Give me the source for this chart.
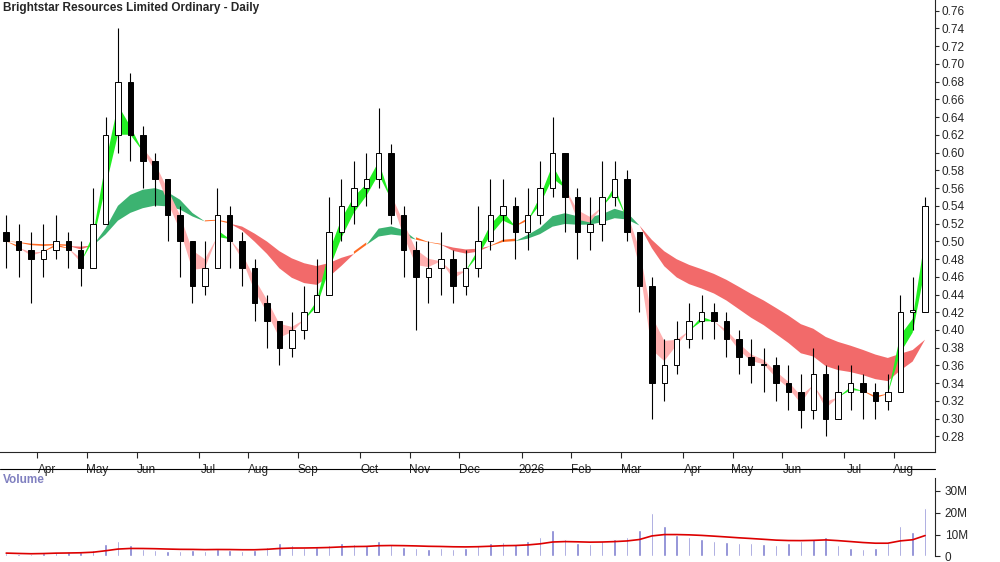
import numpy as np, pandas as pd, matplotlib
matplotlib.use("Agg")
import matplotlib.pyplot as plt, seaborn as sns

sns.set_style("white")
plt.rcParams['font.family'] = ['Liberation Sans', 'DejaVu Sans']

start_date = "2025-03-17"
closes = [0.50,0.49,0.48,0.49,0.50,0.49,0.47,0.52,0.62,0.68,0.62,0.59,0.57,0.53,0.50,0.45,0.47,0.53,0.50,0.47,
          0.43,0.41,0.38,0.40,0.42,0.44,0.51,0.54,0.56,0.57,0.60,0.53,0.49,0.46,0.47,0.48,0.45,0.47,0.50,0.53,
          0.54,0.51,0.53,0.56,0.60,0.55,0.51,0.52,0.55,0.57,0.51,0.45,0.34,0.36,0.39,0.41,0.42,0.41,0.39,0.37,
          0.36,0.36,0.34,0.33,0.31,0.35,0.30,0.33,0.34,0.33,0.32,0.33,0.42,0.42,0.54]
highs  = [0.53,0.52,0.51,0.52,0.53,0.51,0.50,0.56,0.64,0.74,0.69,0.63,0.60,0.57,0.54,0.50,0.50,0.56,0.54,0.51,
          0.48,0.44,0.41,0.42,0.45,0.48,0.55,0.57,0.59,0.60,0.65,0.61,0.54,0.50,0.50,0.51,0.49,0.49,0.54,0.57,
          0.57,0.55,0.56,0.59,0.64,0.60,0.56,0.55,0.59,0.59,0.58,0.50,0.46,0.39,0.41,0.43,0.44,0.43,0.42,0.40,
          0.39,0.38,0.37,0.36,0.35,0.38,0.36,0.36,0.36,0.35,0.34,0.35,0.44,0.46,0.55]
lows   = [0.47,0.46,0.43,0.46,0.48,0.47,0.45,0.48,0.52,0.60,0.59,0.56,0.54,0.50,0.46,0.43,0.44,0.47,0.47,0.45,
          0.41,0.38,0.36,0.37,0.39,0.42,0.44,0.50,0.52,0.54,0.56,0.52,0.46,0.40,0.43,0.44,0.43,0.44,0.46,0.49,
          0.50,0.48,0.49,0.52,0.55,0.51,0.48,0.49,0.50,0.54,0.50,0.42,0.30,0.32,0.35,0.38,0.39,0.39,0.37,0.35,
          0.34,0.33,0.32,0.31,0.29,0.30,0.28,0.30,0.31,0.30,0.30,0.31,0.34,0.40,0.46]
volumes_m = [1.5,1.2,1.0,1.5,2.0,1.8,2.0,3.0,5.5,7.0,5.0,3.5,3.0,2.5,2.5,3.0,2.5,3.5,3.0,2.5,
             3.0,4.5,6.0,5.0,4.0,4.5,5.0,6.0,5.5,5.0,7.0,5.5,4.5,4.0,3.5,4.0,3.5,4.0,5.0,6.0,
             6.5,5.5,7.0,9.0,12.0,8.0,6.0,5.5,7.0,8.0,9.0,12.0,20.0,14.0,10.0,9.0,8.0,7.0,6.5,6.0,
             6.0,5.5,5.0,6.0,7.0,8.0,9.0,5.0,4.0,3.5,4.0,6.0,14.0,11.0,22.0]

n = len(closes)
dates = pd.date_range(start_date, periods=n, freq="W-MON")
df = pd.DataFrame({"date": dates, "close": closes, "high": highs, "low": lows, "vol": volumes_m})
df["open"] = df["close"].shift(1).fillna(df["close"].iloc[0] + 0.01)
df["x"] = np.arange(n)
df["volma"] = df["vol"].ewm(span=14).mean()

fig = plt.figure(figsize=(10, 5.62), dpi=100)
ax = fig.add_axes([0.0, 0.195, 0.935, 0.805])
axv = fig.add_axes([0.0, 0.01, 0.935, 0.14])

def ribbon(spans, up, dn, mid, z):
    emas = np.array([df["close"].ewm(span=s, adjust=False).mean().values for s in spans])
    lo, hi = emas.min(0), emas.max(0)
    d = emas[0] - emas[-1]
    t = 0.003
    x = df["x"].values
    ax.fill_between(x, lo, hi, where=d > t, color=up, interpolate=True, zorder=z, lw=0)
    ax.fill_between(x, lo, hi, where=d < -t, color=dn, interpolate=True, zorder=z, lw=0)
    ax.fill_between(x, lo, hi, where=np.abs(d) <= t, color=mid, interpolate=True, zorder=z, lw=0)

ribbon([12, 14, 17, 21], "#3cb371", "#f26a6a", "#ff6a22", 1)
ribbon([1.8, 2.2, 2.6, 3.0], "#22ee22", "#ffb0b0", "#ff6a22", 2)

for _, r in df.iterrows():
    ax.vlines(r.x, r.low, r.high, color="black", lw=0.8, zorder=3)
    bot, top = min(r.open, r.close), max(r.open, r.close)
    fc = "white" if r.close >= r.open else "black"
    ax.add_patch(plt.Rectangle((r.x - 0.22, bot), 0.44, max(top - bot, 0.002), fc=fc, ec="black", lw=0.7, zorder=4))

ax.set_xlim(-0.5, n - 0.2)
ax.set_ylim(0.262, 0.772)
ax.yaxis.tick_right()
ax.set_yticks(np.arange(0.28, 0.761, 0.02))
ax.set_yticklabels([f"{v:.2f}" for v in np.arange(0.28, 0.761, 0.02)], fontsize=8.5)
month_starts = [i for i in range(1, n) if dates[i].month != dates[i - 1].month]
ax.set_xticks([i - 0.5 for i in month_starts])
ax.set_xticklabels([])
for i in month_starts:
    lab = "2026" if dates[i].month == 1 else dates[i].strftime("%b")
    ax.text(i + 0.3, -0.025, lab, transform=ax.get_xaxis_transform(), ha="center", va="top", fontsize=8.5)
ax.tick_params(axis="x", length=4, direction="out", bottom=True)
ax.tick_params(axis="y", length=3, right=True, pad=2)
for s in ["top", "left"]:
    ax.spines[s].set_visible(False)
ax.text(0.003, 0.995, "Brightstar Resources Limited Ordinary - Daily", transform=ax.transAxes,
        fontsize=8.5, fontweight="bold", va="top")

axv.bar(df["x"], df["vol"], width=0.2, color="#8080d0")
sns.lineplot(x=df["x"], y=df["volma"], ax=axv, color="#dd0000", lw=1.2)
axv.set_xlim(-0.5, n - 0.2)
axv.set_ylim(0, 36)
axv.yaxis.tick_right()
axv.set_yticks([0, 10, 20, 30])
axv.set_yticklabels(["0", "10M", "20M", "30M"], fontsize=8.5)
axv.set_xticks([])
axv.set_xlabel(""); axv.set_ylabel("")
for s in ["top", "left", "bottom"]:
    axv.spines[s].set_visible(False)
axv.text(0.003, 1.05, "Volume", transform=axv.transAxes, fontsize=8.5, fontweight="bold",
         color="#8080c0", va="top")
fig.add_artist(plt.Line2D([0, 0.935], [0.165, 0.165], color="black", lw=0.8))
fig.savefig("out.png", dpi=100)
